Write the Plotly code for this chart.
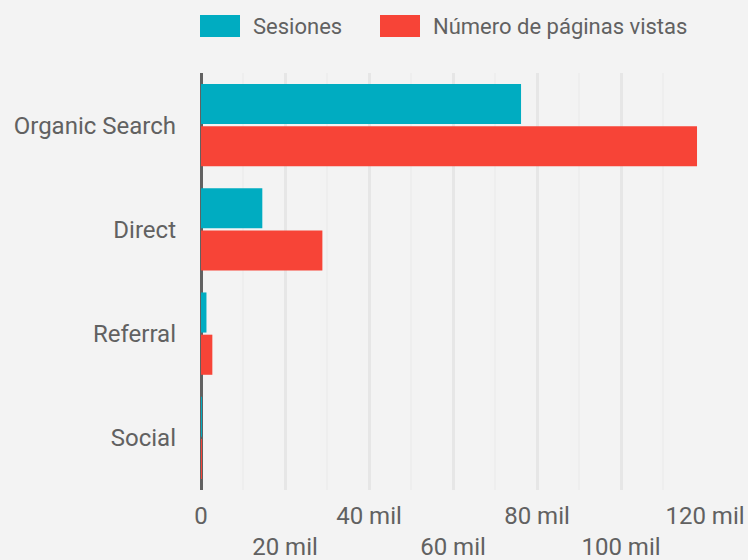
import plotly.graph_objects as go

categories = ["Organic Search", "Direct", "Referral", "Social"]
sesiones = [76200, 14600, 1300, 40]
paginas = [118100, 28900, 2700, 60]
tick_vals = [0, 20000, 40000, 60000, 80000, 100000, 120000]
tick_text = ["0", "<br>20 mil", "40 mil", "<br>60 mil", "80 mil", "<br>100 mil", "120 mil"]

TEAL = "#00acc1"
RED = "#f74437"
TXT = "#616161"
BG = "#f3f3f3"
FONT = "Roboto"

fig = go.Figure()
fig.add_trace(go.Bar(y=categories, x=sesiones, orientation="h", name="Sesiones",
                     marker=dict(color=TEAL, line=dict(width=0))))
fig.add_trace(go.Bar(y=categories, x=paginas, orientation="h", name="Número de páginas vistas",
                     marker=dict(color=RED, line=dict(width=0))))

fig.update_layout(
    width=748, height=560,
    margin=dict(l=201, r=43, t=73, b=70, autoexpand=False),
    paper_bgcolor=BG, plot_bgcolor=BG,
    font=dict(family=FONT, size=22, color=TXT),
    barmode="group", bargap=0.19, bargroupgap=0.05,
    showlegend=False,
    xaxis=dict(range=[0, 120000], tickvals=tick_vals, ticktext=tick_text,
               showgrid=True, gridcolor="#e6e6e6", gridwidth=3,
               minor=dict(dtick=10000, tick0=0, showgrid=True, gridcolor="#eeeeee", gridwidth=2),
               zeroline=True, zerolinecolor="#616161", zerolinewidth=3,
               showline=False, ticks="", ticklabelstandoff=9, automargin=False,
               tickfont=dict(family=FONT, size=24, color=TXT), fixedrange=True),
    yaxis=dict(autorange="reversed", showgrid=False, zeroline=False, showline=False,
               ticks="", ticklabelstandoff=24, automargin=False,
               tickfont=dict(family=FONT, size=24, color=TXT)),
)

# custom legend
legend_items = [("Sesiones", TEAL, 200), ("Número de páginas vistas", RED, 380)]
for label, color, x0 in legend_items:
    fig.add_shape(type="rect", xref="paper", yref="paper",
                  x0=(x0 - 201) / 504, x1=(x0 + 40 - 201) / 504,
                  y0=(560 - 70 - 37) / 417, y1=(560 - 70 - 15) / 417,
                  fillcolor=color, line=dict(width=0))
    fig.add_annotation(xref="paper", yref="paper", x=(x0 + 51 - 201) / 504,
                       y=(560 - 70 - 26) / 417, text=label, showarrow=False,
                       xanchor="left", yanchor="middle",
                       font=dict(family=FONT, size=22, color=TXT))

fig.write_html("out.html", config={"displayModeBar": False}, post_script=[
    "document.body.style.margin='0';document.body.style.padding='0';"
    "document.documentElement.style.background='#f3f3f3';"
])
